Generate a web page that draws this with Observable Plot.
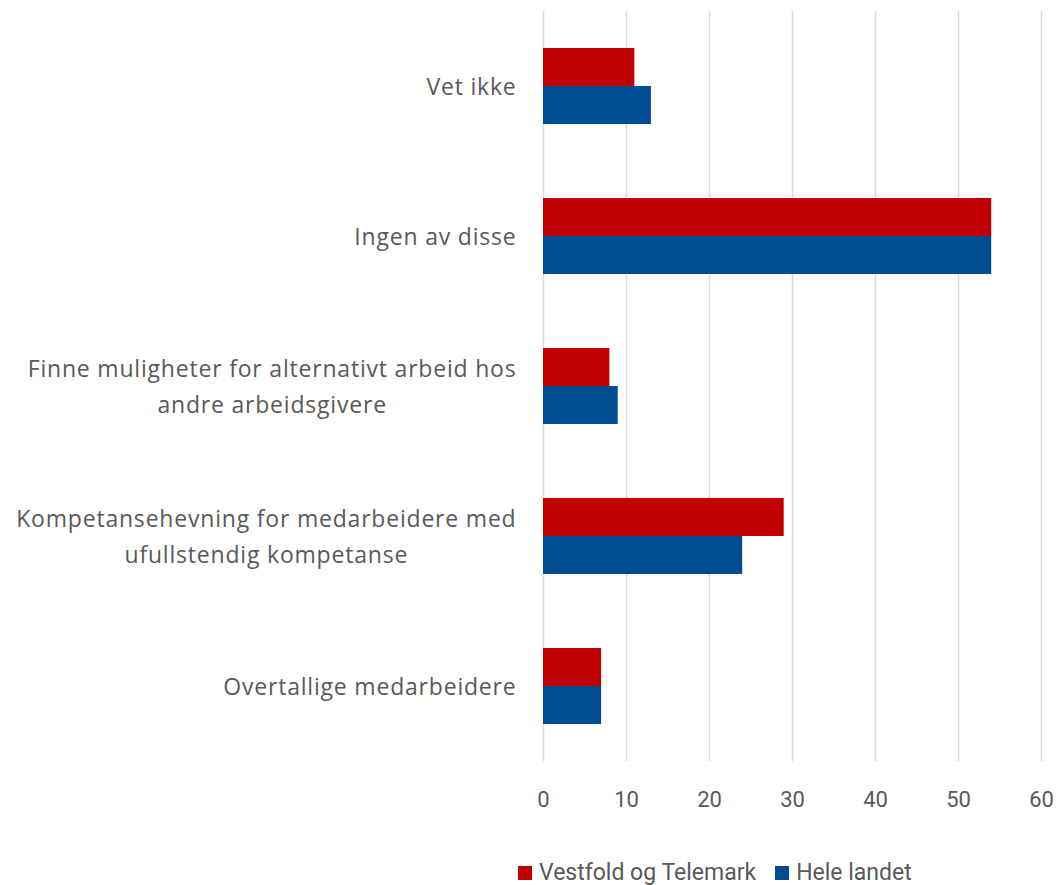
<!DOCTYPE html>
<html><head><meta charset="utf-8">
<script src="https://cdn.jsdelivr.net/npm/d3@7"></script>
<script src="https://cdn.jsdelivr.net/npm/@observablehq/plot@0.6"></script>
<style>
body{margin:0;background:#fff;font-family:Roboto,sans-serif;}
#wrap{position:relative;width:1058px;height:885px;}
#legend{position:absolute;left:518px;top:859px;display:flex;align-items:center;font-size:23px;color:#595959;white-space:nowrap;}
#legend .sw{display:inline-block;width:14px;height:14px;margin-right:7px;}
#legend .item{display:flex;align-items:center;margin-right:19px;}
</style></head><body>
<div id="wrap"><div id="chart"></div><div id="legend"></div></div>
<script>
const categories = [
  "Vet ikke",
  "Ingen av disse",
  "Finne muligheter for alternativt arbeid hos\nandre arbeidsgivere",
  "Kompetansehevning for medarbeidere med\nufullstendig kompetanse",
  "Overtallige medarbeidere"
];
const series = ["Vestfold og Telemark", "Hele landet"];
const vestfold = [11, 54, 8, 29, 7];
const heleLandet = [13, 54, 9, 24, 7];
const colors = ["#C00000", "#004C91"];
const xTicks = [0, 10, 20, 30, 40, 50, 60];

const data = categories.flatMap((c, i) => [
  {cat: c, series: series[0], value: vestfold[i]},
  {cat: c, series: series[1], value: heleLandet[i]}
]);

const chart = Plot.plot({
  width: 1058, height: 845,
  marginLeft: 543, marginRight: 17, marginTop: 10, marginBottom: 83,
  style: {fontFamily: "Roboto, sans-serif", fontSize: "22px", color: "#595959", background: "#fff"},
  x: {domain: [0, 60], label: null},
  y: {domain: series, paddingInner: 0, paddingOuter: 0.93, axis: null},
  fy: {domain: categories, padding: 0, label: null},
  color: {domain: series, range: colors},
  marks: [
    Plot.gridX(xTicks, {stroke: "#D9D9D9", strokeWidth: 1.5, strokeOpacity: 1}),
    Plot.barX(data, {fy: "cat", y: "series", x: "value", fill: "series"}),
    Plot.axisX(xTicks, {tickSize: 0, tickPadding: 30, fontSize: 22, fill: "#595959"}),
    Plot.axisFy({anchor: "left", tickSize: 0, tickPadding: 27, dy: -3, fontSize: 23, fontFamily: "Open Sans, sans-serif", lineHeight: 1.55, fill: "#595959", label: null})
  ]
});
document.getElementById("chart").appendChild(chart);

// slightly wider tracking for the category labels, then center multi-line labels
chart.querySelectorAll('g[aria-label="fy-axis tick label"]').forEach(g => g.style.letterSpacing = "0.8px");
chart.querySelectorAll('g[aria-label="fy-axis tick label"] text').forEach(t => {
  const spans = t.querySelectorAll("tspan");
  if (spans.length > 1) {
    const widths = Array.from(spans, s => s.getComputedTextLength());
    const W = Math.max(...widths);
    spans.forEach((s, i) => s.setAttribute("x", -(W - widths[i]) / 2));
  }
});

const legend = document.getElementById("legend");
series.forEach((s, i) => {
  const item = document.createElement("div");
  item.className = "item";
  const sw = document.createElement("span");
  sw.className = "sw";
  sw.style.background = colors[i];
  item.appendChild(sw);
  item.appendChild(document.createTextNode(s));
  legend.appendChild(item);
});
</script>
</body></html>
